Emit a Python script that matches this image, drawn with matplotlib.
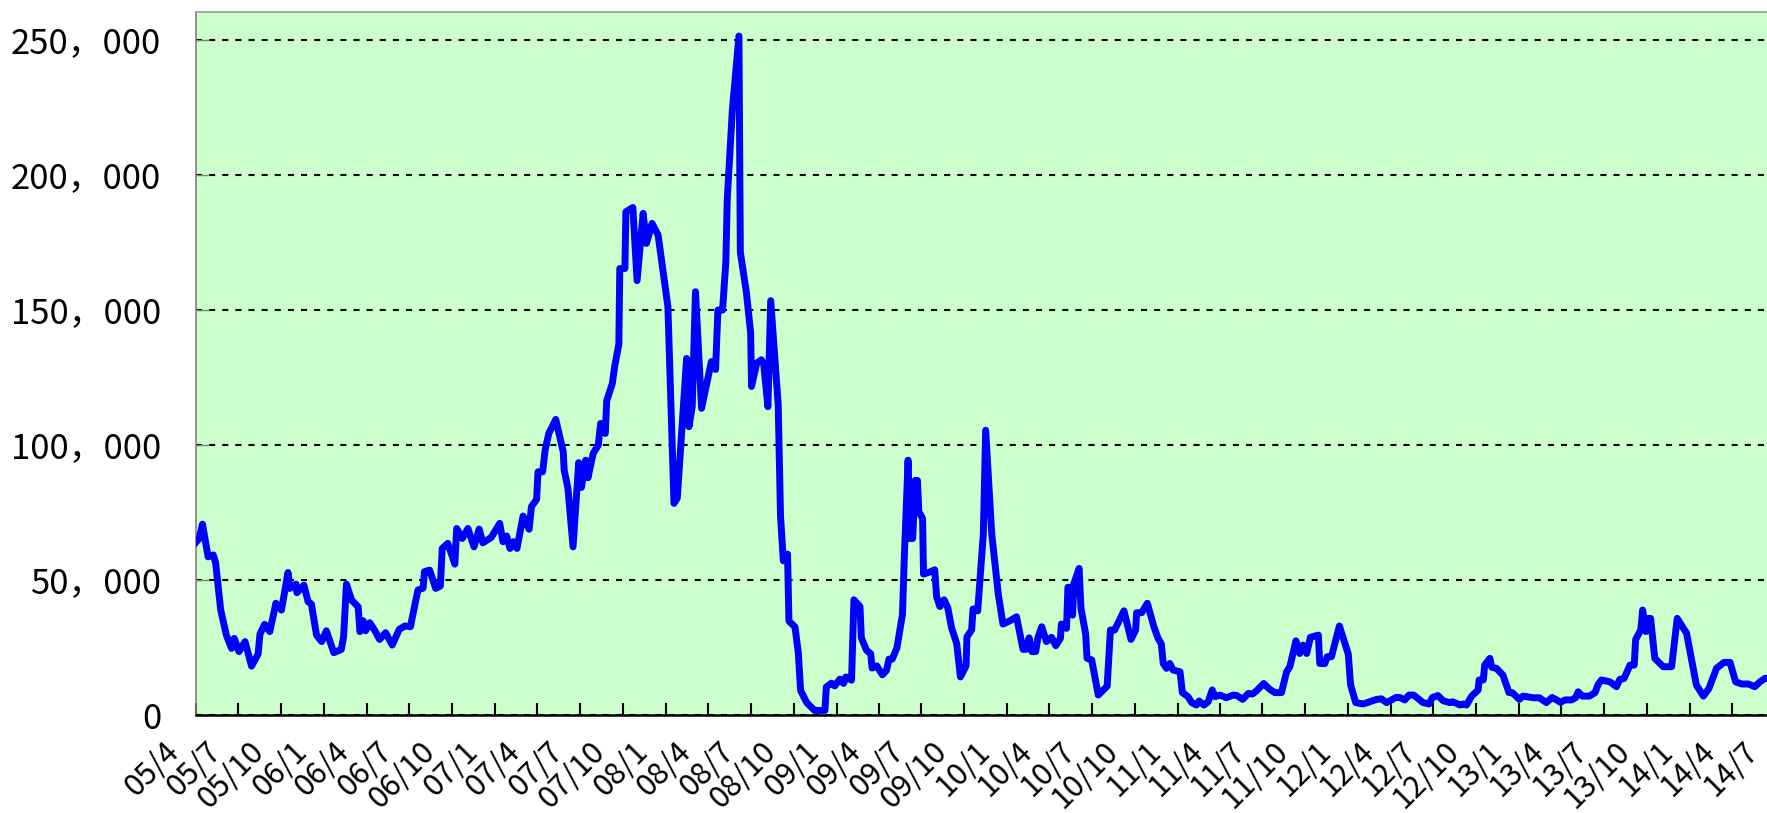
import matplotlib
matplotlib.use('Agg')
import matplotlib.pyplot as plt
import matplotlib.transforms as mtransforms
import pandas as pd

# データ
dates = [
    '2005-04-01', '2005-04-08', '2005-04-15', '2005-04-27', '2005-05-08', '2005-05-13', '2005-05-24', '2005-06-05',
    '2005-06-16', '2005-06-22', '2005-07-02', '2005-07-15', '2005-07-29', '2005-08-12', '2005-08-16', '2005-08-26',
    '2005-09-06', '2005-09-19', '2005-10-01', '2005-10-15', '2005-10-19', '2005-11-01', '2005-11-03', '2005-11-18',
    '2005-11-27', '2005-12-04', '2005-12-15', '2005-12-26', '2006-01-05', '2006-01-21', '2006-02-06', '2006-02-11',
    '2006-02-17', '2006-02-28', '2006-03-14', '2006-03-18', '2006-03-25', '2006-03-30', '2006-04-08', '2006-04-19',
    '2006-04-29', '2006-05-12', '2006-05-26', '2006-06-10', '2006-06-22', '2006-07-04', '2006-07-08', '2006-07-20',
    '2006-07-31', '2006-08-03', '2006-08-14', '2006-08-27', '2006-09-06', '2006-09-10', '2006-09-22', '2006-10-07',
    '2006-10-11', '2006-10-23', '2006-11-04', '2006-11-17', '2006-11-28', '2006-12-06', '2006-12-24', '2007-01-11',
    '2007-01-18', '2007-01-26', '2007-02-02', '2007-02-09', '2007-02-17', '2007-03-02', '2007-03-15', '2007-03-20',
    '2007-03-31', '2007-04-03', '2007-04-13', '2007-04-18', '2007-04-26', '2007-05-11', '2007-05-27', '2007-05-29',
    '2007-06-06', '2007-06-17', '2007-06-29', '2007-07-05', '2007-07-14', '2007-07-19', '2007-07-30', '2007-08-10',
    '2007-08-15', '2007-08-25', '2007-08-28', '2007-09-09', '2007-09-14', '2007-09-23', '2007-09-25', '2007-10-06',
    '2007-10-08', '2007-10-23', '2007-11-01', '2007-11-14', '2007-11-21', '2007-12-03', '2007-12-16', '2008-01-06',
    '2008-01-19', '2008-01-26', '2008-02-15', '2008-02-20', '2008-02-27', '2008-03-05', '2008-03-18', '2008-04-08',
    '2008-04-17', '2008-04-22', '2008-05-02', '2008-05-09', '2008-05-12', '2008-05-23', '2008-06-06', '2008-06-09',
    '2008-06-22', '2008-07-01', '2008-07-03', '2008-07-14', '2008-07-24', '2008-07-29', '2008-08-07', '2008-08-13',
    '2008-08-22', '2008-08-29', '2008-09-03', '2008-09-09', '2008-09-18', '2008-09-21', '2008-10-04', '2008-10-11',
    '2008-10-16', '2008-10-29', '2008-11-15', '2008-12-07', '2008-12-10', '2008-12-21', '2008-12-28', '2009-01-08',
    '2009-01-16', '2009-01-21', '2009-02-02', '2009-02-07', '2009-02-20', '2009-02-23', '2009-03-06', '2009-03-15',
    '2009-03-18', '2009-03-28', '2009-04-09', '2009-04-18', '2009-04-23', '2009-04-30', '2009-05-10', '2009-05-22',
    '2009-05-26', '2009-06-03', '2009-06-07', '2009-06-13', '2009-06-18', '2009-06-23', '2009-06-26', '2009-07-04',
    '2009-07-06', '2009-07-20', '2009-07-30', '2009-08-03', '2009-08-10', '2009-08-19', '2009-08-27', '2009-09-04',
    '2009-09-15', '2009-09-23', '2009-10-05', '2009-10-07', '2009-10-17', '2009-10-20', '2009-10-30', '2009-11-11',
    '2009-11-16', '2009-11-29', '2009-12-13', '2009-12-23', '2010-01-07', '2010-01-21', '2010-02-04', '2010-02-10',
    '2010-02-17', '2010-02-23', '2010-03-03', '2010-03-08', '2010-03-16', '2010-03-26', '2010-04-06', '2010-04-15',
    '2010-04-25', '2010-04-27', '2010-05-08', '2010-05-11', '2010-05-15', '2010-05-21', '2010-05-24', '2010-06-04',
    '2010-06-08', '2010-06-18', '2010-06-21', '2010-07-01', '2010-07-15', '2010-07-26', '2010-08-03', '2010-08-10',
    '2010-08-19', '2010-08-30', '2010-09-08', '2010-09-23', '2010-10-03', '2010-10-05', '2010-10-16', '2010-10-28',
    '2010-11-11', '2010-11-20', '2010-11-27', '2010-12-01', '2010-12-08', '2010-12-15', '2010-12-22', '2011-01-06',
    '2011-01-11', '2011-01-23', '2011-01-31', '2011-02-10', '2011-02-16', '2011-02-26', '2011-03-07', '2011-03-16',
    '2011-03-22', '2011-04-01', '2011-04-15', '2011-04-30', '2011-05-08', '2011-05-20', '2011-06-01', '2011-06-10',
    '2011-06-19', '2011-07-04', '2011-07-17', '2011-07-28', '2011-08-11', '2011-08-22', '2011-08-29', '2011-09-11',
    '2011-09-19', '2011-09-26', '2011-10-04', '2011-10-12', '2011-10-29', '2011-11-01', '2011-11-12', '2011-11-17',
    '2011-11-26', '2011-12-13', '2012-01-01', '2012-01-06', '2012-01-17', '2012-02-02', '2012-02-16', '2012-03-02',
    '2012-03-12', '2012-03-23', '2012-04-12', '2012-04-20', '2012-05-01', '2012-05-10', '2012-05-20', '2012-06-09',
    '2012-06-22', '2012-06-29', '2012-07-11', '2012-07-22', '2012-08-05', '2012-08-11', '2012-08-20', '2012-08-27',
    '2012-09-03', '2012-09-10', '2012-09-21', '2012-10-05', '2012-10-07', '2012-10-16', '2012-10-19', '2012-10-30',
    '2012-11-03', '2012-11-13', '2012-11-27', '2012-12-10', '2012-12-17', '2013-01-01', '2013-01-09', '2013-01-31',
    '2013-02-13', '2013-02-28', '2013-03-12', '2013-03-22', '2013-03-30', '2013-04-09', '2013-04-23', '2013-05-02',
    '2013-05-07', '2013-05-16', '2013-05-31', '2013-06-12', '2013-06-19', '2013-06-26', '2013-07-14', '2013-07-28',
    '2013-08-04', '2013-08-13', '2013-08-26', '2013-09-04', '2013-09-07', '2013-09-18', '2013-09-22', '2013-09-29',
    '2013-10-04', '2013-10-09', '2013-10-18', '2013-11-05', '2013-11-23', '2013-12-05', '2013-12-25', '2014-01-15',
    '2014-01-30', '2014-02-11', '2014-02-27', '2014-03-15', '2014-03-28', '2014-04-09', '2014-04-22', '2014-05-06',
    '2014-05-20', '2014-05-31', '2014-06-11', '2014-06-20',
]

values = [
    64000, 65400, 70700, 58600, 59300, 56500, 38900, 29600,
    24700, 28400, 23500, 27200, 18100, 22600, 30000, 33600,
    30900, 41400, 38900, 52800, 46900, 48500, 45300, 48100,
    42000, 41100, 29600, 27200, 31200, 23100, 24300, 29000,
    48500, 42600, 40100, 30900, 34900, 31200, 34200, 31200,
    28000, 30500, 25900, 31700, 33000, 32700, 36200, 46300,
    47000, 53100, 53700, 46900, 47800, 61700, 63600, 55900,
    69100, 65400, 69100, 62300, 68900, 63800, 65800, 71000,
    64200, 66300, 61700, 64200, 61700, 73700, 68800, 77200,
    79900, 90100, 90100, 97900, 104300, 109500, 97500, 90700,
    84000, 62300, 93500, 84300, 94400, 87900, 96900, 100000,
    108000, 104300, 116400, 122800, 129000, 137400, 165400, 165400,
    186400, 188000, 160900, 185800, 174700, 182100, 177800, 151200,
    78400, 80300, 132100, 106800, 114200, 156800, 113600, 130900,
    128000, 150000, 150000, 168000, 191200, 224300, 251500, 171400,
    156500, 141600, 121700, 130300, 131600, 130000, 114200, 153500,
    131600, 115000, 73700, 57100, 59600, 34800, 32600, 23200,
    9100, 4600, 1700, 1700, 10400, 11800, 10800, 13300,
    11700, 14100, 12900, 42700, 40200, 28600, 24000, 22700,
    17400, 18200, 14900, 16600, 20700, 20700, 24800, 37300,
    58800, 94400, 65400, 65400, 86900, 86900, 75300, 72800,
    52200, 53000, 53800, 43900, 40200, 42700, 39700, 32300,
    26500, 14100, 18200, 29000, 31500, 39300, 38600, 67100,
    105500, 67100, 44800, 33700, 34900, 36400, 24300, 24300,
    28600, 23500, 23500, 28800, 32700, 27200, 28800, 25700,
    28400, 33700, 32100, 47300, 47300, 37000, 48800, 54300,
    39500, 30000, 21000, 20400, 7400, 9300, 10700, 31500,
    31500, 35400, 38600, 28000, 31500, 37900, 37900, 41400,
    32700, 28400, 26300, 19100, 17300, 19100, 16700, 16000,
    8300, 6800, 4600, 3700, 5200, 3700, 4900, 9300,
    6800, 7400, 6400, 7400, 7200, 5800, 8000, 7800,
    9000, 11700, 9500, 8300, 8300, 16000, 17900, 27500,
    22800, 25900, 22800, 28800, 29600, 19100, 19100, 21600,
    21600, 33000, 22600, 11100, 4600, 4100, 4900, 5800,
    6000, 4600, 6500, 6500, 5600, 7400, 7400, 4600,
    4100, 6500, 7200, 5300, 4600, 4900, 4300, 3700,
    4100, 3700, 7000, 9300, 13000, 13000, 18500, 21000,
    17700, 17300, 14800, 8300, 8300, 5800, 7000, 6400,
    6400, 4600, 6500, 5600, 4700, 5600, 5600, 6500,
    8600, 7000, 7000, 8300, 11400, 13000, 12300, 10500,
    13200, 13500, 18500, 18500, 28000, 31500, 38900, 30900,
    35800, 35800, 21000, 17900, 17900, 35800, 30300, 11100,
    7000, 9900, 17300, 19500, 19500, 12300, 11500, 11500,
    10500, 12300, 13600, 13600,
]

x_labels = ['05/4', '05/7', '05/10',
            '06/1', '06/4', '06/7', '06/10',
            '07/1', '07/4', '07/7', '07/10',
            '08/1', '08/4', '08/7', '08/10',
            '09/1', '09/4', '09/7', '09/10',
            '10/1', '10/4', '10/7', '10/10',
            '11/1', '11/4', '11/7', '11/10',
            '12/1', '12/4', '12/7', '12/10',
            '13/1', '13/4', '13/7', '13/10',
            '14/1', '14/4', '14/7']

y_ticks = [0, 50000, 100000, 150000, 200000, 250000]
y_labels = ['0', '50，000', '100，000', '150，000', '200，000', '250，000']

assert len(dates) == len(values)

plt.rcParams['font.family'] = ['Noto Sans CJK JP', 'DejaVu Sans']

fig = plt.figure(figsize=(17.67, 8.13), dpi=100)
ax = fig.add_axes([0.1109, 0.1205, 0.897, 0.8647])
ax.set_facecolor('#CCFFCC')

# 折れ線
ax.plot(pd.to_datetime(dates), values, color='#0000FF', lw=5.0,
        solid_joinstyle='round', zorder=3)

ax.set_xlim(pd.Timestamp('2005-04-01'), pd.Timestamp('2014-07-15'))
ax.set_ylim(0, 260400)

# 目盛り
ax.set_yticks(y_ticks)
ax.set_yticklabels(y_labels)
tick_dates = pd.to_datetime(['20' + s.split('/')[0] + '-' + s.split('/')[1] + '-01' for s in x_labels])
ax.set_xticks(tick_dates)
ax.set_xticklabels(x_labels, rotation=45, ha='right', va='top', rotation_mode='anchor')

ax.grid(axis='y', color='black', linestyle=(0, (2.9, 3.4)), lw=1.5, zorder=1)
ax.set_axisbelow(True)
ax.tick_params(axis='y', direction='in', length=9.5, width=1.0, color='#808080',
               labelsize=25, pad=25)
ax.tick_params(axis='x', direction='in', length=8.3, width=1.5, color='black',
               labelsize=22, pad=15)

# ラベルを左にずらす
offset = mtransforms.ScaledTranslation(-33 / 100, 0, fig.dpi_scale_trans)
for lbl in ax.get_xticklabels():
    lbl.set_transform(lbl.get_transform() + offset)

# 枠線
ax.spines['right'].set_visible(False)
ax.spines['left'].set_color('#808080')
ax.spines['left'].set_linewidth(1.2)
ax.spines['top'].set_color('#999999')
ax.spines['top'].set_linewidth(1.2)
ax.spines['bottom'].set_color('black')
ax.spines['bottom'].set_linewidth(1.8)

fig.savefig('out.png', dpi=100)
